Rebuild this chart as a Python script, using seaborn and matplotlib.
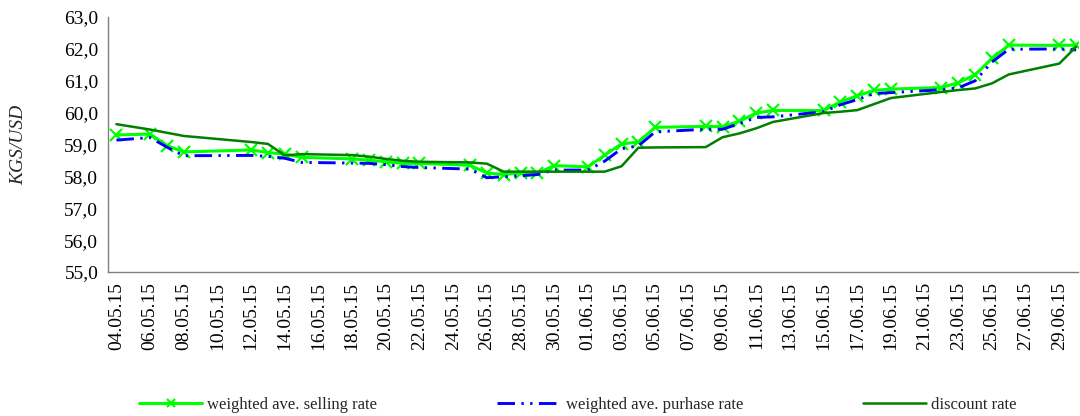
import matplotlib
matplotlib.use("Agg")
import matplotlib.pyplot as plt
import matplotlib.dates as mdates
from matplotlib.ticker import FuncFormatter, MultipleLocator
import seaborn as sns
import pandas as pd
import datetime as dt

dates = ["04.05.15", "06.05.15", "07.05.15", "08.05.15", "12.05.15", "13.05.15", "14.05.15",
         "15.05.15", "18.05.15", "19.05.15", "20.05.15", "21.05.15", "22.05.15", "25.05.15",
         "26.05.15", "27.05.15", "28.05.15", "29.05.15", "30.05.15", "01.06.15", "02.06.15",
         "03.06.15", "04.06.15", "05.06.15", "08.06.15", "09.06.15", "10.06.15", "11.06.15",
         "12.06.15", "15.06.15", "16.06.15", "17.06.15", "18.06.15", "19.06.15", "22.06.15",
         "23.06.15", "24.06.15", "25.06.15", "26.06.15", "29.06.15", "30.06.15"]

selling = [59.30, 59.33, 58.97, 58.77, 58.83, 58.75, 58.70, 58.60, 58.55, 58.51, 58.46, 58.41,
           58.41, 58.35, 58.11, 58.06, 58.11, 58.10, 58.34, 58.30, 58.67, 59.02, 59.08, 59.54,
           59.57, 59.56, 59.73, 59.99, 60.07, 60.07, 60.34, 60.53, 60.70, 60.74, 60.79, 60.94,
           61.19, 61.70, 62.12, 62.11, 62.12]

purchase = [59.14, 59.22, 58.92, 58.65, 58.66, 58.63, 58.57, 58.44, 58.42, 58.41, 58.37, 58.31,
            58.28, 58.23, 57.96, 57.99, 58.02, 58.06, 58.20, 58.20, 58.48, 58.87, 58.96, 59.40,
            59.48, 59.48, 59.66, 59.85, 59.87, 60.03, 60.25, 60.41, 60.60, 60.63, 60.72, 60.78,
            61.00, 61.59, 61.99, 62.00, 61.97]

discount = [59.64, 59.47, 59.37, 59.27, 59.08, 59.02, 58.66, 58.70, 58.67, 58.62, 58.55, 58.49,
            58.46, 58.44, 58.40, 58.15, 58.15, 58.15, 58.15, 58.15, 58.15, 58.32, 58.90, 58.91,
            58.92, 59.23, 59.35, 59.51, 59.71, 59.99, 60.03, 60.08, 60.27, 60.46, 60.65, 60.71,
            60.76, 60.92, 61.20, 61.54, 62.07]

series_names = ["weighted ave. selling rate", "weighted ave. purhase rate", "discount rate"]
y_label = "KGS/USD"

df = pd.DataFrame({
    "date": pd.to_datetime(dates, format="%d.%m.%y"),
    series_names[0]: selling,
    series_names[1]: purchase,
    series_names[2]: discount,
})

sns.set_theme(style="white")
plt.rcParams["font.family"] = ["Liberation Serif", "DejaVu Serif"]

fig = plt.figure(figsize=(10.8, 4.16), dpi=100)
ax = fig.add_axes([0.1, 0.346, 0.898, 0.613])

sns.lineplot(data=df, x="date", y=series_names[0], ax=ax, color="#00FF00", linewidth=2.2,
             marker="x", markersize=9, markeredgewidth=1.6, markeredgecolor="#00FF00",
             label=series_names[0])
sns.lineplot(data=df, x="date", y=series_names[1], ax=ax, color="#0000FF", linewidth=2.1,
             label=series_names[1])
ax.lines[-1].set_dashes([6, 2.2, 0.8, 2.2, 0.8, 2.2])
sns.lineplot(data=df, x="date", y=series_names[2], ax=ax, color="#008000", linewidth=1.8,
             label=series_names[2])

start = dt.datetime(2015, 5, 4)
ax.set_xlim(start - dt.timedelta(hours=12), start + dt.timedelta(days=57.1))
ax.set_ylim(55, 63)
ax.yaxis.set_major_locator(MultipleLocator(1.0))
ax.yaxis.set_major_formatter(FuncFormatter(lambda v, p: f"{v:.1f}".replace(".", ",")))

ticks = [start + dt.timedelta(days=2 * k) for k in range(29)]
ax.set_xticks(ticks)
ax.xaxis.set_major_formatter(mdates.DateFormatter("%d.%m.%y"))
plt.setp(ax.get_xticklabels(), rotation=90)

ax.tick_params(axis="both", labelsize=14, colors="black", direction="out", length=4, width=0.8)
ax.tick_params(axis="x", pad=3)
ax.tick_params(axis="y", pad=3)
for s in ["top", "right"]:
    ax.spines[s].set_visible(False)
for s in ["left", "bottom"]:
    ax.spines[s].set_color("#808080")
    ax.spines[s].set_linewidth(1.0)
ax.tick_params(axis="both", color="#808080")

ax.set_xlabel("")
ax.set_ylabel(y_label, fontsize=14, fontstyle="italic")
ax.yaxis.set_label_coords(-0.083, 0.5)

handles, labels = ax.get_legend_handles_labels()
ax.get_legend().remove()
fig.legend(handles, labels, loc="center", bbox_to_anchor=(0.535, 0.027), ncol=3,
           frameon=False, fontsize=12, handlelength=3.8, handletextpad=0.3,
           columnspacing=7.2, markerscale=0.6)

fig.savefig("out.png", dpi=100)
